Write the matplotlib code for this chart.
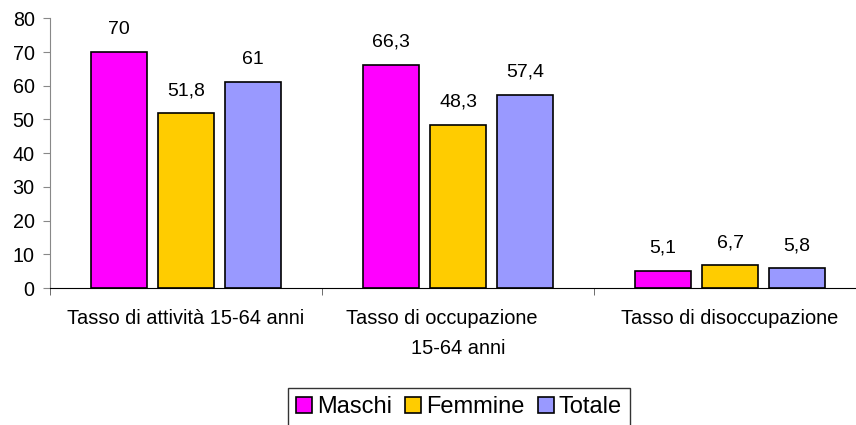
import numpy as np
import matplotlib.pyplot as plt

plt.rcParams["font.family"] = ["Liberation Sans", "DejaVu Sans"]

categories = ["Tasso di attività 15-64 anni", "Tasso di occupazione      \n15-64 anni",
              "Tasso di disoccupazione"]
series_names = ["Maschi", "Femmine", "Totale"]
maschi = [70, 66.3, 5.1]
femmine = [51.8, 48.3, 6.7]
totale = [61, 57.4, 5.8]
colors = ["#FF00FF", "#FFCC00", "#9999FF"]

fig = plt.figure(figsize=(8.56, 4.25), dpi=100)
ax = fig.add_axes([50 / 856, 1 - 288 / 425, 816 / 856, (288 - 18.4) / 425])

x = np.arange(len(categories))
width = 0.205
pitch = 0.246
for i, (name, vals) in enumerate(zip(series_names, [maschi, femmine, totale])):
    pos = x + (i - 1) * pitch
    ax.bar(pos, vals, width, color=colors[i], edgecolor="black", linewidth=1.2, label=name)
    for p, v in zip(pos, vals):
        ax.annotate(f"{v:g}".replace(".", ","), (p, v), xytext=(0, 16.5),
                    textcoords="offset points", ha="center", va="center", fontsize=14)

ax.set_xlim(-0.5, 2.5)
ax.set_ylim(0, 80)
ax.set_yticks(range(0, 81, 10))
ax.set_xticks(x)
ax.set_xticklabels(categories, fontsize=14.4, linespacing=1.75)
ax.set_xticks([-0.5, 0.5, 1.5], minor=True)
ax.tick_params(axis="x", which="major", length=0, pad=15)
ax.tick_params(axis="x", which="minor", length=5, direction="out", color="#555555")
ax.tick_params(axis="y", length=5, pad=6, labelsize=14.2, color="#888888")

for s in ["top", "right"]:
    ax.spines[s].set_visible(False)
ax.spines["left"].set_color("#888888")
ax.spines["bottom"].set_color("black")

leg = fig.legend(loc="upper center", bbox_to_anchor=(459 / 856, 1 - 388 / 425), ncol=3,
                 fontsize=17, frameon=True, fancybox=False, edgecolor="black",
                 handlelength=0.68, handleheight=0.68, handletextpad=0.22,
                 columnspacing=0.55, borderpad=0.35, borderaxespad=0)
leg.get_frame().set_linewidth(1.0)

fig.savefig("out.png", dpi=100)
